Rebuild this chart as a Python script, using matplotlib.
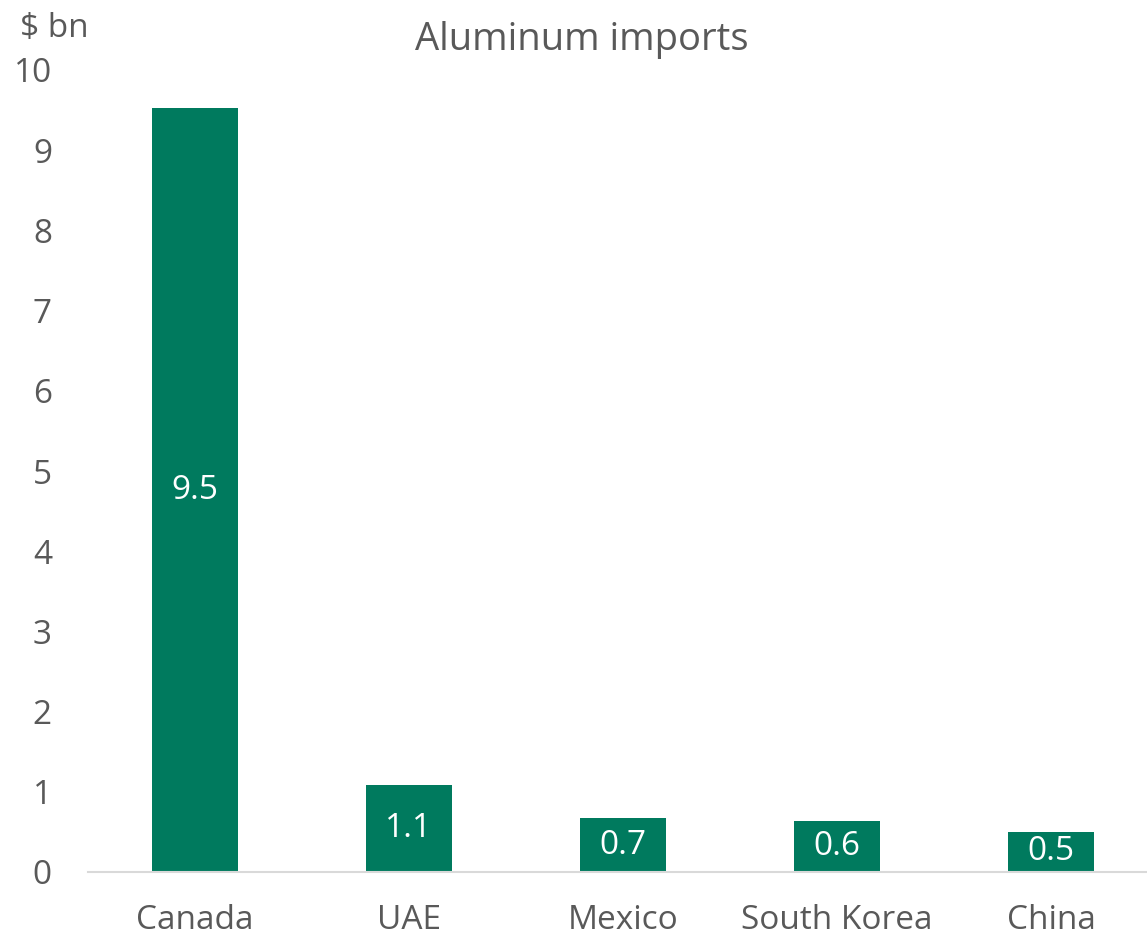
import matplotlib
matplotlib.use("Agg")
from matplotlib import pyplot as plt
import numpy as np

plt.rcParams['font.family'] = ['Open Sans', 'DejaVu Sans']

countries = ['Canada', 'UAE', 'Mexico', 'South Korea', 'China']
imports_bn = [9.52, 1.08, 0.67, 0.64, 0.50]

bar_color = '#007A5E'
text_color = '#595959'

fig = plt.figure(figsize=(11.47, 9.4), dpi=100)
ax = fig.add_axes([88 / 1147, 1 - 872 / 940, 1 - 88 / 1147, (872 - 70) / 940])

x = np.arange(len(countries))
bars = ax.bar(x, imports_bn, width=0.40, color=bar_color, zorder=2)

# value labels sit in the middle of each bar
for b, v in zip(bars, imports_bn):
    ax.text(b.get_x() + b.get_width() / 2, v / 2, f'{v:.1f}',
            ha='center', va='center', color='white', fontsize=24)

ax.set_xlim(-0.5, (1147 - 195) / 214)
ax.set_ylim(0, 10)
ax.set_yticks(range(0, 11))
ax.set_xticks(x, countries)
ax.tick_params(axis='both', length=0, labelsize=24, labelcolor=text_color)
ax.tick_params(axis='y', pad=26)
ax.tick_params(axis='x', pad=23)

for side in ['top', 'right', 'left']:
    ax.spines[side].set_visible(False)
ax.spines['bottom'].set_color('#D9D9D9')
ax.spines['bottom'].set_linewidth(1.5)

fig.text(582 / 1147, 1 - 50 / 940, 'Aluminum imports', ha='center', va='baseline',
         fontsize=27.5, color=text_color)
fig.text(20 / 1147, 1 - 37 / 940, '$ bn', ha='left', va='baseline',
         fontsize=24, color=text_color)

fig.savefig('out.png', dpi=100)
